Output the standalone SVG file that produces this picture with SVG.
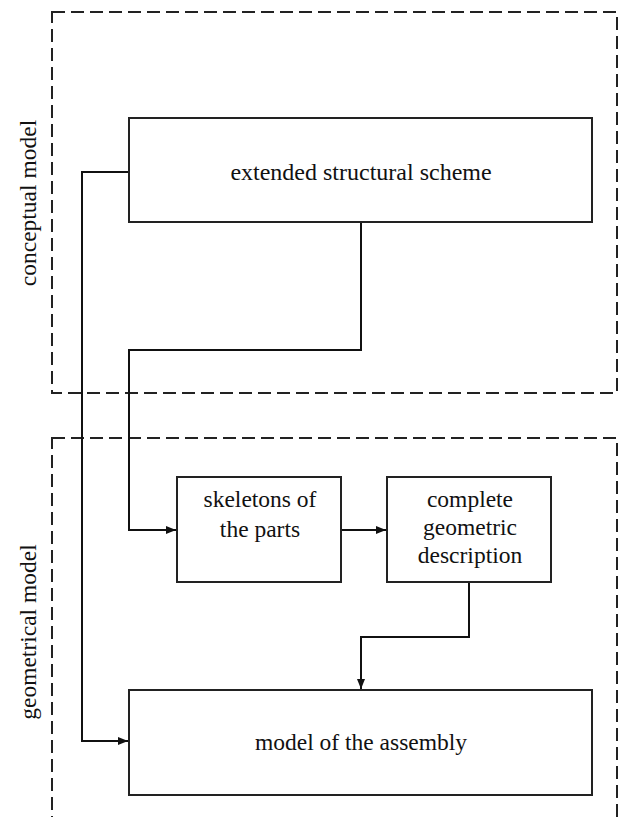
<svg xmlns="http://www.w3.org/2000/svg" width="619" height="817" viewBox="0 0 619 817">
<style>
.frame{fill:none;stroke:#222;stroke-width:2;stroke-dasharray:13 6}
.box{fill:#fff;stroke:#222;stroke-width:2}
.ln{fill:none;stroke:#111;stroke-width:2}
.t{font-family:'Liberation Serif','DejaVu Serif',serif;font-size:23.5px;fill:#111;text-anchor:middle}
</style>
<defs>
<marker id="ah" viewBox="0 0 10 10" refX="10" refY="5" markerWidth="10" markerHeight="10" markerUnits="userSpaceOnUse" orient="auto">
<path d="M0,1 L10,5 L0,9 Z" fill="#111"/>
</marker>
</defs>
<g id="conceptual">
<rect class="frame" x="52" y="12" width="565" height="381"/>
<text class="t" transform="translate(36,203) rotate(-90)">conceptual model</text>
</g>
<g id="geometrical">
<rect class="frame" x="52" y="438" width="565" height="400"/>
<text class="t" transform="translate(36,632) rotate(-90)">geometrical model</text>
</g>
<g id="connectors">
<path class="ln" d="M129,172 H82 V741 H128" marker-end="url(#ah)"/>
<path class="ln" d="M361,222 V350 H129 V530 H176" marker-end="url(#ah)"/>
<path class="ln" d="M341,530 H386" marker-end="url(#ah)"/>
<path class="ln" d="M469,582 V637 H361 V689" marker-end="url(#ah)"/>
</g>
<g id="extended">
<rect class="box" x="129" y="118" width="463" height="104"/>
<text class="t" x="361" y="180" style="font-size:24px">extended structural scheme</text>
</g>
<g id="skeletons">
<rect class="box" x="177" y="477" width="164" height="105"/>
<text class="t" x="260" y="507">skeletons of</text>
<text class="t" x="260" y="537">the parts</text>
</g>
<g id="complete">
<rect class="box" x="387" y="477" width="164" height="105"/>
<text class="t" x="470" y="507">complete</text>
<text class="t" x="470" y="535">geometric</text>
<text class="t" x="470" y="563">description</text>
</g>
<g id="model">
<rect class="box" x="129" y="690" width="463" height="105"/>
<text class="t" x="361" y="750">model of the assembly</text>
</g>
</svg>
